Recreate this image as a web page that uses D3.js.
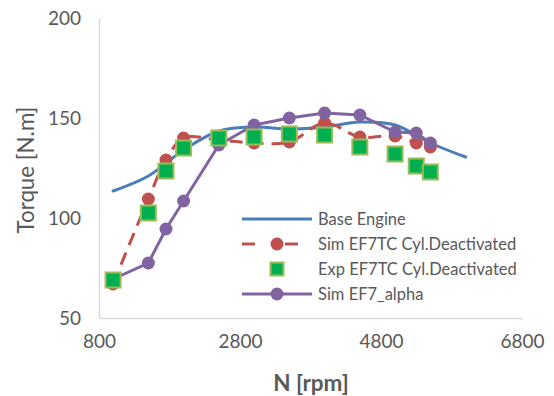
<!DOCTYPE html>
<html><head><meta charset="utf-8">
<script src="https://cdn.jsdelivr.net/npm/d3@7"></script>
<style>
body{margin:0;background:#fff;}
text{font-family:Lato,"Open Sans",sans-serif;}
</style></head>
<body><svg id="c" width="554" height="396"></svg>
<script>
// ---- data ----
const baseN = [1000,1500,2000,2500,3000,3500,4000,4500,5000,5500,6000];
const baseT = [113.5,121,134,143.5,145.5,144.5,145.5,148,146.5,137.5,130.5];
const simN = [1000,1500,1750,2000,2500,3000,3500,4000,4500,5000,5300,5500];
const simT = [67,109.5,129,140,139,137.5,138,147.5,140.5,141,137.5,135.5];
const expN = [1000,1500,1750,2000,2500,3000,3500,4000,4500,5000,5300,5500];
const expT = [69,102.5,123.5,135,140,140.5,142,141.5,135.5,132,126,123];
const alphaN = [1000,1500,1750,2000,2500,3000,3500,4000,4500,5000,5300,5500];
const alphaT = [69.5,77.5,94.5,108.5,136.5,146.5,150,152.5,151.5,143,142.5,137.5];
const xTicks = [800,2800,4800,6800];
const yTicks = [50,100,150,200];
const seriesNames = ["Base Engine","Sim EF7TC Cyl.Deactivated","Exp EF7TC Cyl.Deactivated","Sim EF7_alpha"];

const svg = d3.select("#c");
const x = d3.scaleLinear().domain([800,6800]).range([99,522]);
const y = d3.scaleLinear().domain([50,200]).range([318,18]);

const cBlue="#4A7EBB", cRed="#C0504D", cGreen="#00B050", cGreenB="#9BBB59", cPurple="#8064A2";
const axisCol="#D9D9D9", txtCol="#595959";

// axes
const gx = svg.append("g").attr("transform","translate(0,318)")
  .call(d3.axisBottom(x).tickValues(xTicks).tickSize(0).tickPadding(17).tickFormat(d3.format("d")));
gx.select(".domain").attr("stroke",axisCol).attr("stroke-width",1.5);
gx.selectAll("text").attr("fill",txtCol).style("font-size","19px");
const gy = svg.append("g").attr("transform","translate(99,0)")
  .call(d3.axisLeft(y).tickValues(yTicks).tickSize(0).tickPadding(18));
gy.select(".domain").attr("stroke",axisCol).attr("stroke-width",1.5);
gy.selectAll("text").attr("fill",txtCol).style("font-size","19px");

svg.append("text").attr("x",311).attr("y",391).attr("text-anchor","middle")
  .attr("fill",txtCol).style("font-size","22.5px").style("font-weight","bold").text("N [rpm]");
svg.append("text").attr("transform","translate(34,170) rotate(-90)").attr("text-anchor","middle")
  .attr("fill",txtCol).style("font-size","22.3px").text("Torque [N.m]");

const pts = (N,T)=>N.map((n,i)=>[n,T[i]]);
const lineSmooth = d3.line().x(d=>x(d[0])).y(d=>y(d[1])).curve(d3.curveCatmullRom.alpha(0.5));
const lineLin = d3.line().x(d=>x(d[0])).y(d=>y(d[1]));

// base engine
svg.append("path").attr("d",lineSmooth(pts(baseN,baseT))).attr("fill","none")
  .attr("stroke",cBlue).attr("stroke-width",3).attr("stroke-linecap","round");
// sim cyl deact
svg.append("path").attr("d",lineSmooth(pts(simN,simT))).attr("fill","none")
  .attr("stroke",cRed).attr("stroke-width",3).attr("stroke-dasharray","13,8");
svg.append("g").selectAll("circle").data(pts(simN,simT)).join("circle")
  .attr("cx",d=>x(d[0])).attr("cy",d=>y(d[1])).attr("r",6.5).attr("fill",cRed);
// alpha
svg.append("path").attr("d",lineLin(pts(alphaN,alphaT))).attr("fill","none")
  .attr("stroke",cPurple).attr("stroke-width",3);
svg.append("g").selectAll("circle").data(pts(alphaN,alphaT)).join("circle")
  .attr("cx",d=>x(d[0])).attr("cy",d=>y(d[1])).attr("r",6.5).attr("fill",cPurple);
// exp squares
svg.append("g").selectAll("rect").data(pts(expN,expT)).join("rect")
  .attr("x",d=>x(d[0])-7.5).attr("y",d=>y(d[1])-7.5).attr("width",15).attr("height",15)
  .attr("fill",cGreen).attr("stroke",cGreenB).attr("stroke-width",2);

// legend
const lg = svg.append("g");
const rows=[219,244,269,294];
lg.append("line").attr("x1",242).attr("x2",312).attr("y1",rows[0]).attr("y2",rows[0]).attr("stroke",cBlue).attr("stroke-width",3);
lg.append("line").attr("x1",242).attr("x2",312).attr("y1",rows[1]).attr("y2",rows[1]).attr("stroke",cRed).attr("stroke-width",3).attr("stroke-dasharray","13,30");
lg.append("circle").attr("cx",277).attr("cy",rows[1]).attr("r",6.5).attr("fill",cRed);
lg.append("rect").attr("x",277-6.5).attr("y",rows[2]-6.5).attr("width",13).attr("height",13).attr("fill",cGreen).attr("stroke",cGreenB).attr("stroke-width",2);
lg.append("line").attr("x1",242).attr("x2",312).attr("y1",rows[3]).attr("y2",rows[3]).attr("stroke",cPurple).attr("stroke-width",3);
lg.append("circle").attr("cx",277).attr("cy",rows[3]).attr("r",6.5).attr("fill",cPurple);
seriesNames.forEach((s,i)=>{
  lg.append("text").attr("x",318).attr("y",rows[i]).attr("dy","0.35em").attr("fill",txtCol)
    .style("font-size","16.5px").text(s);
});
</script></body></html>
